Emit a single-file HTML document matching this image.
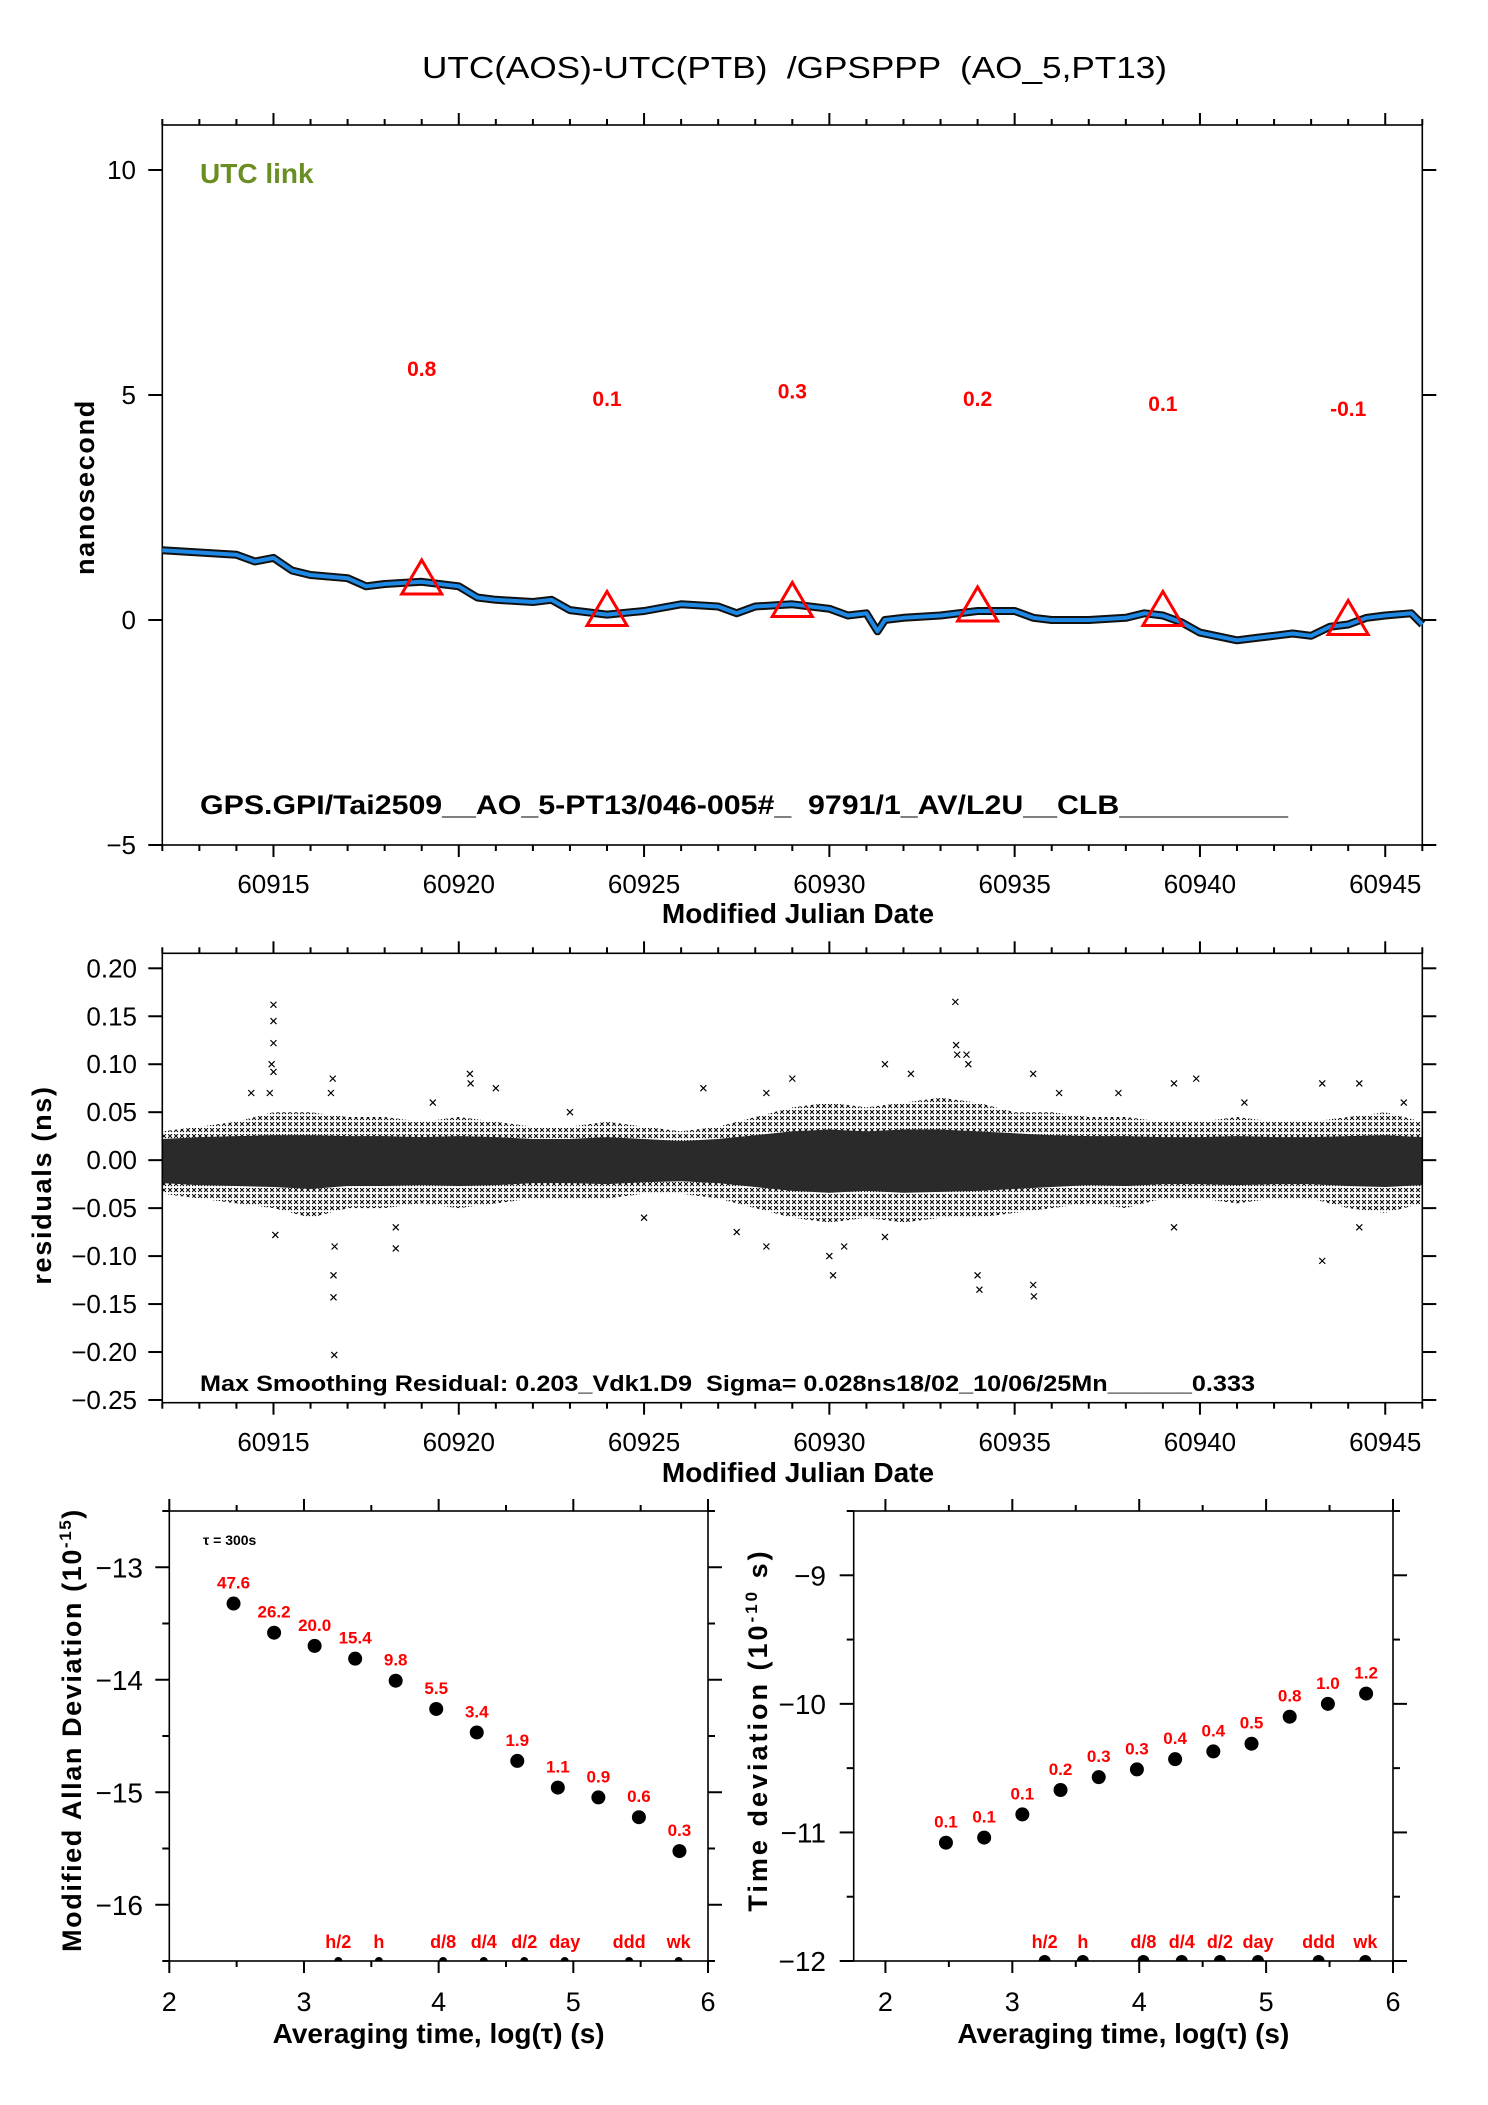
<!DOCTYPE html>
<html><head><meta charset="utf-8">
<style>
html,body{margin:0;padding:0;background:#fff;}
svg{display:block;font-family:"Liberation Sans",Arial,sans-serif;}
text{white-space:pre;}
</style></head>
<body>
<svg id="chart" xmlns="http://www.w3.org/2000/svg" width="1488" height="2105" viewBox="0 0 1488 2105">
<defs>
<pattern id="xpat" width="6" height="6" patternUnits="userSpaceOnUse">
<rect width="6" height="6" fill="#fff"/>
<path d="M0,0L4,4M0,4L4,0" stroke="#000" stroke-width="1"/>
</pattern>
</defs>
<rect x="0" y="0" width="1488" height="2105" fill="#fff"/>
<text x="422" y="78" font-size="31" textLength="745" lengthAdjust="spacingAndGlyphs">UTC(AOS)-UTC(PTB)  /GPSPPP  (AO_5,PT13)</text>
<g id="g1"></g>
<g id="g2"></g>
<g id="g3"></g>
<g id="g4"></g>
</svg>
<script>
// ---------- Panel 1 data ----------
const tsDays = [60912,60913,60914,60914.5,60915,60915.5,60916,60917,60917.5,60918,60919,60920,60920.5,60921,60922,60922.5,60923,60924,60925,60926,60927,60927.5,60928,60929,60930,60930.5,60931,60931.3,60931.5,60932,60933,60934,60935,60935.5,60936,60937,60938,60938.5,60939,60939.5,60940,60941,60941.5,60942,60942.5,60943,60943.5,60944,60944.5,60945,60945.7,60946];
const tsValues = [1.55,1.5,1.45,1.3,1.38,1.1,1.0,0.93,0.75,0.8,0.85,0.75,0.5,0.45,0.4,0.45,0.22,0.12,0.2,0.35,0.3,0.15,0.3,0.35,0.25,0.1,0.15,-0.25,0.0,0.05,0.1,0.2,0.2,0.05,0.0,0.0,0.05,0.15,0.1,-0.05,-0.28,-0.45,-0.4,-0.35,-0.3,-0.35,-0.15,-0.1,0.05,0.1,0.15,-0.1];
const markDays = [60919,60924,60929,60934,60939,60944];
const markValues = [0.8,0.1,0.3,0.2,0.1,-0.1];
const markLabels = ["0.8","0.1","0.3","0.2","0.1","-0.1"];
const markLabelLevels = [5.6,4.93,5.1,4.93,4.82,4.71];
const tsYTicks = [-5,0,5,10];
const mjdMajor = [60915,60920,60925,60930,60935,60940,60945];

// ---------- Panel 2 data ----------
const envDays = [60912,60913,60914,60915,60916,60917,60918,60919,60920,60921,60922,60923,60924,60925,60926,60927,60928,60929,60930,60931,60932,60933,60934,60935,60936,60937,60938,60939,60940,60941,60942,60943,60944,60945,60946];
const envUpper = [0.03,0.035,0.04,0.05,0.05,0.045,0.045,0.04,0.045,0.04,0.035,0.035,0.04,0.035,0.03,0.035,0.045,0.055,0.06,0.055,0.06,0.065,0.06,0.05,0.05,0.045,0.045,0.04,0.04,0.045,0.04,0.04,0.045,0.05,0.04];
const envLower = [-0.035,-0.04,-0.045,-0.05,-0.06,-0.05,-0.05,-0.045,-0.05,-0.045,-0.04,-0.04,-0.04,-0.035,-0.035,-0.04,-0.05,-0.06,-0.065,-0.06,-0.065,-0.06,-0.06,-0.055,-0.05,-0.045,-0.05,-0.04,-0.04,-0.045,-0.04,-0.04,-0.05,-0.055,-0.045];
const coreUpper = [0.022,0.024,0.025,0.026,0.026,0.025,0.025,0.024,0.025,0.024,0.022,0.022,0.024,0.022,0.02,0.022,0.026,0.03,0.032,0.03,0.032,0.032,0.03,0.028,0.026,0.025,0.025,0.024,0.024,0.025,0.024,0.024,0.025,0.026,0.024];
const coreLower = [-0.024,-0.026,-0.027,-0.028,-0.03,-0.027,-0.027,-0.026,-0.027,-0.026,-0.024,-0.024,-0.025,-0.023,-0.022,-0.024,-0.028,-0.032,-0.034,-0.032,-0.034,-0.033,-0.032,-0.03,-0.028,-0.026,-0.027,-0.025,-0.025,-0.026,-0.025,-0.025,-0.027,-0.028,-0.026];
const outDays = [60915,60915,60915,60914.95,60915,60914.9,60915.05,60916.6,60916.55,60916.65,60916.62,60916.62,60916.64,60918.3,60918.3,60919.3,60914.4,60920.3,60920.32,60921,60923,60925,60928.3,60928.3,60929,60930,60930.1,60930.4,60931.5,60931.5,60932.2,60933.4,60933.42,60933.45,60933.7,60933.75,60934,60934.05,60935.5,60935.5,60935.52,60937.8,60939.3,60939.3,60939.9,60943.3,60943.3,60944.3,60944.3,60945.5,60926.6,60927.5,60936.2,60941.2];
const outValues = [0.162,0.145,0.122,0.1,0.092,0.07,-0.078,0.085,0.07,-0.09,-0.12,-0.143,-0.203,-0.07,-0.092,0.06,0.07,0.09,0.08,0.075,0.05,-0.06,0.07,-0.09,0.085,-0.1,-0.12,-0.09,0.1,-0.08,0.09,0.165,0.12,0.11,0.11,0.1,-0.12,-0.135,0.09,-0.13,-0.142,0.07,0.08,-0.07,0.085,0.08,-0.105,0.08,-0.07,0.06,0.075,-0.075,0.07,0.06];
const resYTicks = [-0.25,-0.2,-0.15,-0.1,-0.05,0,0.05,0.1,0.15,0.2];
const resYLabels = ["\u22120.25","\u22120.20","\u22120.15","\u22120.10","\u22120.05","0.00","0.05","0.10","0.15","0.20"];

// ---------- Panel 3/4 data ----------
const tauLog = [2.477,2.778,3.079,3.380,3.681,3.982,4.283,4.584,4.885,5.186,5.487,5.788];
const mdevValues = [47.6,26.2,20.0,15.4,9.8,5.5,3.4,1.9,1.1,0.9,0.6,0.3];
const mdevLabels = ["47.6","26.2","20.0","15.4","9.8","5.5","3.4","1.9","1.1","0.9","0.6","0.3"];
const tdevLog = [-11.08,-11.04,-10.86,-10.67,-10.57,-10.51,-10.43,-10.37,-10.31,-10.10,-10.0,-9.92];
const tdevLabels = ["0.1","0.1","0.1","0.2","0.3","0.3","0.4","0.4","0.5","0.8","1.0","1.2"];
const periodNames = ["h/2","h","d/8","d/4","d/2","day","ddd","wk"];
const periodLog = [3.255,3.556,4.033,4.335,4.636,4.936,5.414,5.782];
const mdevYTicks = [-16,-15,-14,-13];
const tdevYTicks = [-12,-11,-10,-9];
const logXTicks = [2,3,4,5,6];

const NS = "http://www.w3.org/2000/svg";
function mk(parent, tag, attrs, txt){
  const e = document.createElementNS(NS, tag);
  for (const k in attrs) e.setAttribute(k, attrs[k]);
  if (txt !== undefined) e.textContent = txt;
  parent.appendChild(e);
  return e;
}
function lin(d0,d1,r0,r1){ return v => r0 + (v-d0)*(r1-r0)/(d1-d0); }

// ================= Panel 1 =================
(function(){
  const g = document.getElementById('g1');
  const L=162.3,R=1422.3,T=125,B=845;
  const x = lin(60912,60946,L,R), y = lin(-5,11,B,T);
  let e;
  e = mk(g,'rect',{x:L,y:T,width:R-L,height:B-T,fill:'none',stroke:'#000','stroke-width':1.6});
   
  for (let d=60912; d<=60946; d++){
    const maj = mjdMajor.includes(d);
    const len = maj?12:6;
    mk(g,'line',{x1:x(d),x2:x(d),y1:B,y2:B+len,stroke:'#000','stroke-width':2});
    mk(g,'line',{x1:x(d),x2:x(d),y1:T,y2:T-len,stroke:'#000','stroke-width':2});
  }
  mjdMajor.forEach(d=>{
    e = mk(g,'text',{x:x(d),y:893,'text-anchor':'middle','font-size':26},String(d));
     
  });
  tsYTicks.forEach(v=>{
    mk(g,'line',{x1:L-14,x2:L,y1:y(v),y2:y(v),stroke:'#000','stroke-width':2});
    mk(g,'line',{x1:R,x2:R+14,y1:y(v),y2:y(v),stroke:'#000','stroke-width':2});
    e = mk(g,'text',{x:136,y:y(v)+9,'text-anchor':'end','font-size':26},v<0?'\u2212'+Math.abs(v):String(v));
     
  });
  e = mk(g,'text',{x:798,y:923,'text-anchor':'middle','font-size':28,'font-weight':'bold'},'Modified Julian Date');
   
  e = mk(g,'text',{x:0,y:0,'text-anchor':'middle','font-size':27,'font-weight':'bold','letter-spacing':1.7,transform:'translate(94,487) rotate(-90)'},'nanosecond');
   
  e = mk(g,'text',{x:200,y:183,'font-size':28,'font-weight':'bold',fill:'#6b8e23'},'UTC link');
   
  e = mk(g,'text',{x:200,y:814,'font-size':27,'font-weight':'bold',textLength:1088,lengthAdjust:'spacingAndGlyphs'},'GPS.GPI/Tai2509__AO_5-PT13/046-005#_  9791/1_AV/L2U__CLB__________');
   
  const pts = tsDays.map((d,i)=>x(d).toFixed(1)+','+y(tsValues[i]).toFixed(1)).join(' ');
  e = mk(g,'polyline',{points:pts,fill:'none',stroke:'#111','stroke-width':8,'stroke-linejoin':'round'});
   
  e = mk(g,'polyline',{points:pts,fill:'none',stroke:'#1e88e5','stroke-width':4,'stroke-linejoin':'round'});
   
  markDays.forEach((d,i)=>{
    const cx=x(d), cy=y(markValues[i]);
    e = mk(g,'polygon',{points:`${cx-20},${cy+10} ${cx+20},${cy+10} ${cx},${cy-24}`,fill:'none',stroke:'#f00','stroke-width':3});
     
    e = mk(g,'text',{x:cx,y:y(markLabelLevels[i])+8,'text-anchor':'middle','font-size':21,'font-weight':'bold',fill:'#f00'},markLabels[i]);
     
  });
})();

// ================= Panel 2 =================
(function(){
  const g = document.getElementById('g2');
  const L=162.3,R=1422.3,T=953.3,B=1402.7;
  const x = lin(60912,60946,L,R), y = v => 968.3 + (0.2 - v)*959.3;
  let e;
  const clip = mk(g,'clipPath',{id:'resclip'});
  mk(clip,'rect',{x:L,y:T,width:R-L,height:B-T});
  const outer = envDays.map((d,i)=>x(d)+','+y(envUpper[i])).concat(envDays.slice().reverse().map((d,i)=>x(d)+','+y(envLower[envDays.length-1-i]))).join(' ');
  e = mk(g,'polygon',{points:outer,fill:'url(#xpat)','clip-path':'url(#resclip)'});
   
  const core = envDays.map((d,i)=>x(d)+','+y(coreUpper[i])).concat(envDays.slice().reverse().map((d,i)=>x(d)+','+y(coreLower[envDays.length-1-i]))).join(' ');
  e = mk(g,'polygon',{points:core,fill:'#2a2a2a','clip-path':'url(#resclip)'});
   
  outDays.forEach((d,i)=>{
    const cx=x(d), cy=y(outValues[i]);
    e = mk(g,'path',{d:`M${cx-3},${cy-3}L${cx+3},${cy+3}M${cx-3},${cy+3}L${cx+3},${cy-3}`,stroke:'#000','stroke-width':1.2});
     
  });
  e = mk(g,'rect',{x:L,y:T,width:R-L,height:B-T,fill:'none',stroke:'#000','stroke-width':1.6});
   
  for (let d=60912; d<=60946; d++){
    const maj = mjdMajor.includes(d);
    const len = maj?12:6;
    mk(g,'line',{x1:x(d),x2:x(d),y1:B,y2:B+len,stroke:'#000','stroke-width':2});
    mk(g,'line',{x1:x(d),x2:x(d),y1:T,y2:T-len,stroke:'#000','stroke-width':2});
  }
  mjdMajor.forEach(d=>{
    e = mk(g,'text',{x:x(d),y:1451,'text-anchor':'middle','font-size':26},String(d));
     
  });
  resYTicks.forEach((v,i)=>{
    mk(g,'line',{x1:L-14,x2:L,y1:y(v),y2:y(v),stroke:'#000','stroke-width':2});
    mk(g,'line',{x1:R,x2:R+14,y1:y(v),y2:y(v),stroke:'#000','stroke-width':2});
    e = mk(g,'text',{x:137,y:y(v)+9,'text-anchor':'end','font-size':26},resYLabels[i]);
     
  });
  e = mk(g,'text',{x:798,y:1482,'text-anchor':'middle','font-size':28,'font-weight':'bold'},'Modified Julian Date');
   
  e = mk(g,'text',{x:0,y:0,'text-anchor':'middle','font-size':27,'font-weight':'bold','letter-spacing':1.7,transform:'translate(51,1185) rotate(-90)'},'residuals (ns)');
   
  e = mk(g,'text',{x:200,y:1391,'font-size':22,'font-weight':'bold',textLength:1055,lengthAdjust:'spacingAndGlyphs'},'Max Smoothing Residual: 0.203_Vdk1.D9  Sigma= 0.028ns18/02_10/06/25Mn______0.333');
   
})();

// ================= Stability panels =================
function stabPanel(gid, L, R, xmin, yMin, yMax, yTicks, yTitle, titleX, titleSpacing, labelRight, ys, labels, dotR, perR){
  const g = document.getElementById(gid);
  const T=1511,B=1961;
  const x = lin(xmin,6,L,R), y = lin(yMin,yMax,B,T);
  let e;
  e = mk(g,'rect',{x:L,y:T,width:R-L,height:B-T,fill:'none',stroke:'#000','stroke-width':1.6});
   
  for (let v=2; v<=6.001; v+=0.5){
    const maj = Math.abs(v-Math.round(v))<1e-6;
    const len = maj?12:6;
    mk(g,'line',{x1:x(v),x2:x(v),y1:B,y2:B+len,stroke:'#000','stroke-width':2});
    mk(g,'line',{x1:x(v),x2:x(v),y1:T,y2:T-len,stroke:'#000','stroke-width':2});
  }
  logXTicks.forEach(v=>{
    e = mk(g,'text',{x:x(v),y:2011,'text-anchor':'middle','font-size':27},String(v));
     
  });
  for (let v=yMin; v<=yMax+1e-6; v+=0.5){
    const maj = yTicks.includes(v);
    const len = maj?14:7;
    mk(g,'line',{x1:L-len,x2:L,y1:y(v),y2:y(v),stroke:'#000','stroke-width':2});
    mk(g,'line',{x1:R,x2:R+len,y1:y(v),y2:y(v),stroke:'#000','stroke-width':2});
  }
  yTicks.forEach(v=>{
    e = mk(g,'text',{x:labelRight,y:y(v)+10,'text-anchor':'end','font-size':28},'\u2212'+Math.abs(v));
     
  });
  e = mk(g,'text',{x:(L+R)/2,y:2043,'text-anchor':'middle','font-size':28,'font-weight':'bold'},'Averaging time, log(\u03C4) (s)');
   
  e = mk(g,'text',{x:0,y:0,'text-anchor':'middle','font-size':27,'font-weight':'bold','letter-spacing':titleSpacing,transform:`translate(${titleX},1730) rotate(-90)`});
   
  yTitle.forEach(p=>{ mk(e,'tspan',p[1]?{'font-size':17,dy:-10}:{dy:p[2]||0},p[0]); });
  const clip = mk(g,'clipPath',{id:gid+'clip'});
  mk(clip,'rect',{x:L,y:T,width:R-L,height:B-T});
  tauLog.forEach((t,i)=>{
    e = mk(g,'circle',{cx:x(t),cy:y(ys[i]),r:dotR,fill:'#000'});
     
    e = mk(g,'text',{x:x(t),y:y(ys[i])-dotR-8,'text-anchor':'middle','font-size':17,'font-weight':'bold',fill:'#f00'},labels[i]);
     
  });
  periodLog.forEach((t,i)=>{
    e = mk(g,'circle',{cx:x(t),cy:B,r:perR,fill:'#000','clip-path':`url(#${gid}clip)`});
     
    e = mk(g,'text',{x:x(t),y:B-13,'text-anchor':'middle','font-size':18,'font-weight':'bold',fill:'#f00'},periodNames[i]);
     
  });
  return g;
}
const mdevLog = mdevValues.map(v=>Math.log10(v)-15);
const g3 = stabPanel('g3',169.3,708,2,-16.5,-12.5,mdevYTicks,[['Modified Allan Deviation (10'],['-15',1],[')',0,10]],81,1.6,143,mdevLog,mdevLabels,7,4);
(function(){
  const e = mk(g3,'text',{x:203,y:1545,'font-size':14,'font-weight':'bold'},'\u03C4 = 300s');
   
})();
stabPanel('g4',853.7,1393,1.75,-12,-8.5,tdevYTicks,[['Time deviation (10'],['-10',1],[' s)',0,10]],767,3,826,tdevLog,tdevLabels,7,6);
</script>
</body></html>
